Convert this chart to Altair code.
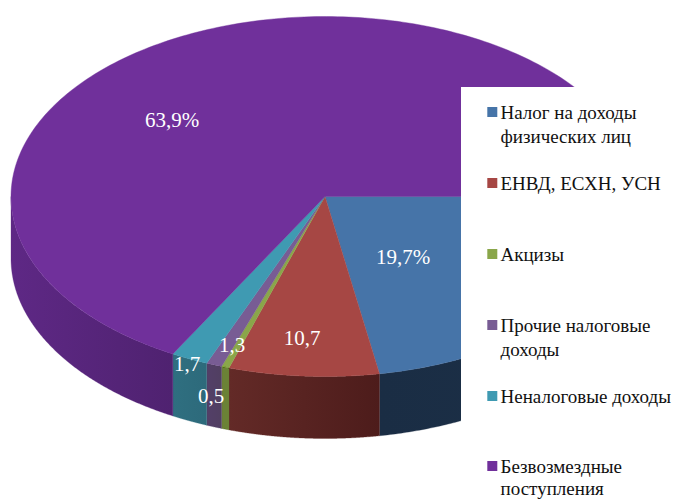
import altair as alt
import numpy as np
import pandas as pd

# ---- values ----
categories = [
    ["Налог на доходы", "физических лиц"],
    ["ЕНВД, ЕСХН, УСН"],
    ["Акцизы"],
    ["Прочие налоговые", "доходы"],
    ["Неналоговые доходы"],
    ["Безвозмездные", "поступления"],
]
shares = [19.7, 10.7, 0.5, 1.3, 1.7, 63.9]
share_labels = ["19,7%", "10,7", "0,5", "1,3", "1,7", "63,9%"]

# ---- styles ----
top_colors = ["#4674A8", "#A64744", "#8AA64A", "#785C94", "#3F9AB2", "#70309B"]
wall_left = ["#1A2D44", "#632A27", "#6B8236", "#533F68", "#2F6F80", "#5E2885"]
wall_right = ["#1C3048", "#4D1C1B", "#6B8236", "#513F61", "#2D6A7B", "#4F2270"]
SERIF = "'Liberation Serif', 'Times New Roman', Times, serif"

# ---- layout (reference pixels) ----
PAGE_X, PAGE_Y = 8, 8
CX, CY, RX, RY, DEPTH = 325.0, 196.5, 314.0, 180.0, 62.0
# perspective of the tilted pie: true angle -> ellipse parameter
warp_in = [90, 162.5, 201.9, 203.7, 208.5, 214.8, 450]
warp_out = [90, 170, 197.8, 199.2, 202.1, 209, 450]
label_px = [(403, 258), (302, 339), (211, 397), (232, 346), (187, 365), (172, 121)]
legend_px = [(113, 24), (184, 0), (255, 0), (326, 24), (397, 0), (467, 22)]
LEGEND_X, SWATCH_X, BOX_X, BOX_Y = 500.5, 492.3, 461, 87

W, H = 664, 492


def rim(t, dy=0.0):
    r = np.radians(t)
    return CX + RX * np.sin(r) - PAGE_X, CY - RY * np.cos(r) + dy - PAGE_Y


def feature(points):
    ring = [[float(x), float(y)] for x, y in points]
    ring.append(ring[0])
    return {"type": "Feature", "properties": {},
            "geometry": {"type": "Polygon", "coordinates": [ring]}}


proj = dict(type="identity", scale=1, translate=[0, 0])
cum = 90 + np.concatenate([[0], np.cumsum(shares)]) / sum(shares) * 360
edges = np.interp(cum, warp_in, warp_out)

walls, tops = [], []
for i, col in enumerate(top_colors):
    t0, t1 = edges[i], edges[i + 1]
    ts = np.linspace(t0, t1, 240)
    xs, ys = rim(ts)
    tops.append(
        alt.Chart(alt.Data(values=[feature([(CX - PAGE_X, CY - PAGE_Y)] + list(zip(xs, ys)))]))
        .mark_geoshape(fill=col, stroke=col, strokeWidth=0.4)
        .project(**proj)
    )
    # visible front wall only: parameter between 90 and 270
    w0, w1 = max(t0, 90), min(t1, 270)
    if w1 > w0:
        ws = np.linspace(w0, w1, 160)
        ax, ay = rim(ws)
        bx, by = rim(ws[::-1], DEPTH)
        grad = alt.Gradient(
            gradient="linear", x1=0, x2=1, y1=0, y2=0,
            stops=[alt.GradientStop(offset=0, color=wall_left[i]),
                   alt.GradientStop(offset=1, color=wall_right[i])],
        )
        walls.append(
            alt.Chart(alt.Data(values=[feature(list(zip(ax, ay)) + list(zip(bx, by)))]))
            .mark_geoshape(fill=grad, stroke=wall_left[i], strokeWidth=0.3)
            .project(**proj)
        )

px = dict(scale=None, axis=None)

box = alt.Chart(pd.DataFrame({"x": [BOX_X - PAGE_X], "x2": [W], "y": [BOX_Y - PAGE_Y], "y2": [H]})).mark_rect(
    color="white"
).encode(x=alt.X("x:Q", **px), x2="x2:Q", y=alt.Y("y:Q", **px), y2="y2:Q")

labels_df = pd.DataFrame({
    "text": share_labels,
    "x": [p[0] - PAGE_X for p in label_px],
    "y": [p[1] - PAGE_Y for p in label_px],
})
labels = alt.Chart(labels_df).mark_text(
    font=SERIF, fontSize=21, color="white", align="center", baseline="middle"
).encode(x=alt.X("x:Q", **px), y=alt.Y("y:Q", **px), text="text:N")

leg_rows, sw_rows = [], []
for lines, (y0, dy), col in zip(categories, legend_px, top_colors):
    sw_rows.append({"x": SWATCH_X - PAGE_X, "y": y0 - 1 - PAGE_Y, "c": col})
    for j, line in enumerate(lines):
        leg_rows.append({"text": line, "x": LEGEND_X - PAGE_X, "y": y0 + j * dy - PAGE_Y})

swatches = alt.Chart(pd.DataFrame(sw_rows)).mark_square(size=100, opacity=1).encode(
    x=alt.X("x:Q", **px), y=alt.Y("y:Q", **px), color=alt.Color("c:N", scale=None)
)
legend_text = alt.Chart(pd.DataFrame(leg_rows)).mark_text(
    font=SERIF, fontSize=19, color="#111111", align="left", baseline="middle"
).encode(x=alt.X("x:Q", **px), y=alt.Y("y:Q", **px), text="text:N")

chart = (
    alt.layer(*walls, *tops, box, labels, swatches, legend_text)
    .properties(width=W, height=H, padding=0)
    .configure_view(stroke=None)
)
chart.save("out.html", embed_options={"renderer": "svg", "actions": False})
